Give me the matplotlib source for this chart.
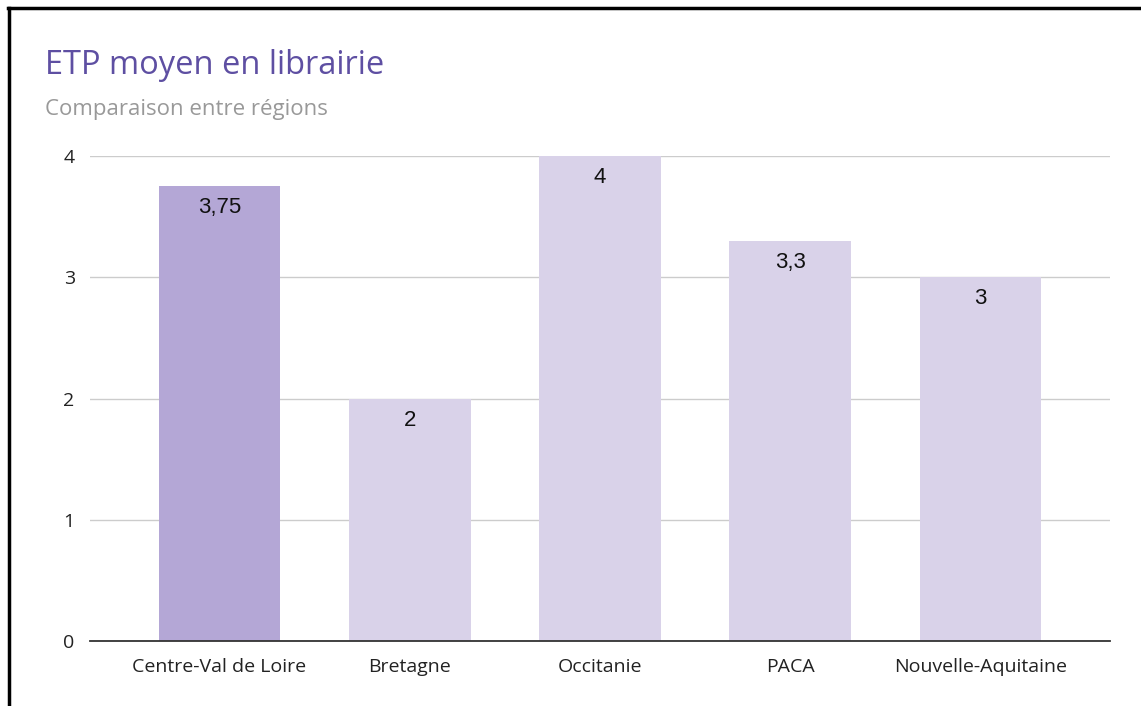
import matplotlib
matplotlib.use("Agg")
import matplotlib.pyplot as plt
from matplotlib.lines import Line2D

categories = ["Centre-Val de Loire", "Bretagne", "Occitanie", "PACA", "Nouvelle-Aquitaine"]
values = [3.75, 2, 4, 3.3, 3]
value_labels = ["3,75", "2", "4", "3,3", "3"]
yticks = [0, 1, 2, 3, 4]
title = "ETP moyen en librairie"
subtitle = "Comparaison entre régions"

W, H, DPI = 1141, 706, 100
fig = plt.figure(figsize=(W / DPI, H / DPI), dpi=DPI)
fig.patch.set_facecolor("white")

ax = fig.add_axes([90 / W, (H - 641) / H, (1110 - 90) / W, (641 - 156) / H])
colors = ["#b4a7d6"] + ["#d9d2e9"] * (len(categories) - 1)
x = list(range(len(categories)))
bars = ax.bar(x, values, width=0.64, color=colors, zorder=2)

ax.set_xlim(-0.68, len(categories) - 1 + 0.68)
ax.set_ylim(0, 4)
ax.set_yticks(yticks)
ax.set_yticklabels([str(t) for t in yticks], family="Open Sans", fontsize=14, color="#222222")
ax.set_xticks(x)
ax.set_xticklabels(categories, family="Open Sans", fontsize=14, color="#222222")
ax.tick_params(axis="both", length=0)
ax.tick_params(axis="y", pad=11)
ax.tick_params(axis="x", pad=12)
for s in ["top", "right", "left"]:
    ax.spines[s].set_visible(False)
ax.spines["bottom"].set_color("#333333")
ax.spines["bottom"].set_linewidth(1.3)
ax.spines["bottom"].set_zorder(3)
ax.grid(axis="y", color="#cccccc", linewidth=1, zorder=1)
ax.set_axisbelow(True)

for xi, v, lab in zip(x, values, value_labels):
    ax.annotate(lab, (xi, v), xytext=(0, -15.5), textcoords="offset points",
                ha="center", va="center", family="Liberation Sans", fontsize=16, color="#111111", zorder=4)

fig.text(45 / W, 1 - 66 / H, title, family="Open Sans", fontsize=23.5, color="#5e4fa2", va="center", ha="left")
fig.text(45 / W, 1 - 109 / H, subtitle, family="Open Sans", fontsize=16, color="#999999", va="center", ha="left")

fig.add_artist(Line2D([8 / W, 1], [1 - 8 / H, 1 - 8 / H], transform=fig.transFigure, color="black", linewidth=2.5))
fig.add_artist(Line2D([9 / W, 9 / W], [0, 1 - 8 / H], transform=fig.transFigure, color="black", linewidth=2.5))

fig.savefig("out.png", dpi=DPI, facecolor="white")
